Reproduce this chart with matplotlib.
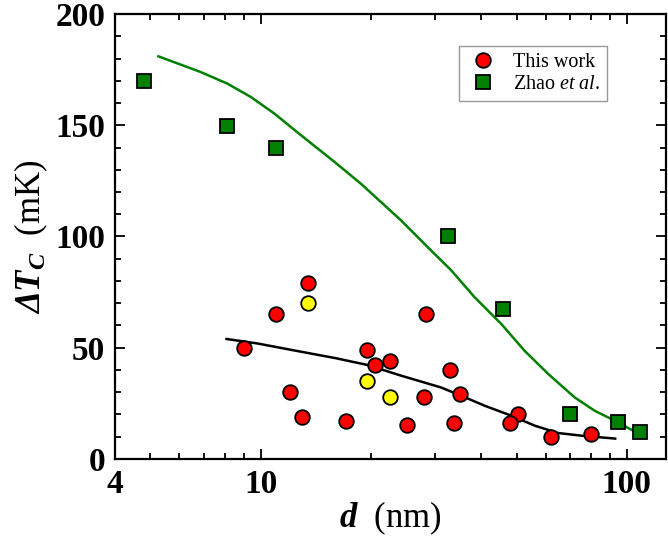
import matplotlib
matplotlib.use('Agg')
import matplotlib.pyplot as plt
from matplotlib.ticker import FixedLocator, NullFormatter

# fonts: Times-like serif, bold italic for the symbols
plt.rcParams['font.family'] = 'Liberation Serif'
plt.rcParams['mathtext.fontset'] = 'custom'
plt.rcParams['mathtext.rm'] = 'Liberation Serif'
plt.rcParams['mathtext.it'] = 'Liberation Serif:italic'
plt.rcParams['mathtext.bf'] = 'Liberation Serif:bold'
plt.rcParams['mathtext.bfit'] = 'Liberation Serif:bold:italic'

# This work (red) and the three yellow points
this_d = [13.5, 11.0, 9.0, 19.5, 20.5, 22.5, 12.0, 13.0, 17.1, 25.1, 28.3,
          33.0, 27.9, 35.0, 33.7, 50.5, 48.0, 62.0, 79.8]
this_dtc = [79, 65, 50, 49, 42, 44, 30, 19, 17, 15, 65,
            40, 28, 29, 16, 20, 16, 10, 11]
yellow_d = [13.5, 19.5, 22.5]
yellow_dtc = [70, 35, 28]

# Zhao et al. (green squares)
zhao_d = [4.81, 8.07, 11.0, 32.5, 46.0, 69.8, 94.4, 109]
zhao_dtc = [170, 149.5, 140, 100, 67.6, 20.3, 16.7, 12.2]

# curves
green_d = [5.26, 6.85, 8.1, 9.39, 10.9, 12.9, 15.9, 18.8, 24.2, 28.6, 33.2,
           38.4, 45.4, 52.6, 61.0, 72.1, 81.8, 92.9, 104.3, 110]
green_dtc = [181, 174, 168.8, 162.8, 155.3, 145.5, 133.6, 123.7, 107.2, 95.2, 84.7,
             72.7, 60.7, 48.6, 38.2, 27.6, 21.6, 17.1, 12.6, 11.1]
black_d = [8.07, 9.79, 12.87, 16.0, 19.6, 24.2, 31.1, 35.3, 40.9, 48.4, 56.1,
           65.0, 75.4, 93.0]
black_dtc = [53.9, 51.9, 48.2, 45.3, 42.2, 37.4, 32.1, 28.4, 23.9, 19.4, 14.9,
             11.6, 10.4, 9.1]

fig = plt.figure(figsize=(6.68, 5.43), dpi=100)
ax = fig.add_axes([0.172, 0.155, 0.825, 0.819])

ax.plot(green_d, green_dtc, color='#008000', lw=1.8, zorder=2)
ax.plot(black_d, black_dtc, color='black', lw=1.8, zorder=2)

ax.plot(this_d, this_dtc, 'o', ms=10.5, mfc='red', mec='black', mew=1.3,
        label='This work', zorder=3)
ax.plot(zhao_d, zhao_dtc, 's', ms=9.5, mfc='#008000', mec='black', mew=1.3,
        label=r'Zhao $\mathit{et\ al.}$', zorder=3)
ax.plot(yellow_d, yellow_dtc, 'o', ms=10.5, mfc='yellow', mec='black', mew=1.3,
        zorder=3)

ax.set_xscale('log')
ax.set_xlim(4, 128)
ax.set_ylim(0, 200)

ax.xaxis.set_major_locator(FixedLocator([4, 10, 100]))
ax.xaxis.set_minor_locator(FixedLocator([5, 6, 7, 8, 9, 20, 30, 40, 50, 60, 70, 80, 90]))
ax.xaxis.set_minor_formatter(NullFormatter())
ax.set_xticklabels(['4', '10', '100'])
ax.set_yticks([0, 50, 100, 150, 200])
ax.yaxis.set_minor_locator(FixedLocator(range(10, 200, 10)))

ax.tick_params(which='both', direction='in', top=True, right=True, width=1.3)
ax.tick_params(which='major', length=7, labelsize=24, pad=7)
ax.tick_params(which='minor', length=4)
for lab in ax.get_xticklabels() + ax.get_yticklabels():
    lab.set_fontweight('bold')
for sp in ax.spines.values():
    sp.set_linewidth(1.6)

ax.set_xlabel(r'$\mathbfit{d}$  (nm)', fontsize=25, labelpad=0)
ax.set_ylabel(r'$\mathbfit{\Delta T_C}$  (mK)', fontsize=25, labelpad=4)

leg = ax.legend(loc='upper right', bbox_to_anchor=(0.904, 0.943), fontsize=14.5,
                frameon=True, fancybox=False, edgecolor='gray',
                handletextpad=0.7, borderpad=0.35, labelspacing=0.15,
                handlelength=1.6, borderaxespad=0.3)
leg.get_frame().set_linewidth(1.0)

fig.savefig('out.png', dpi=100)
